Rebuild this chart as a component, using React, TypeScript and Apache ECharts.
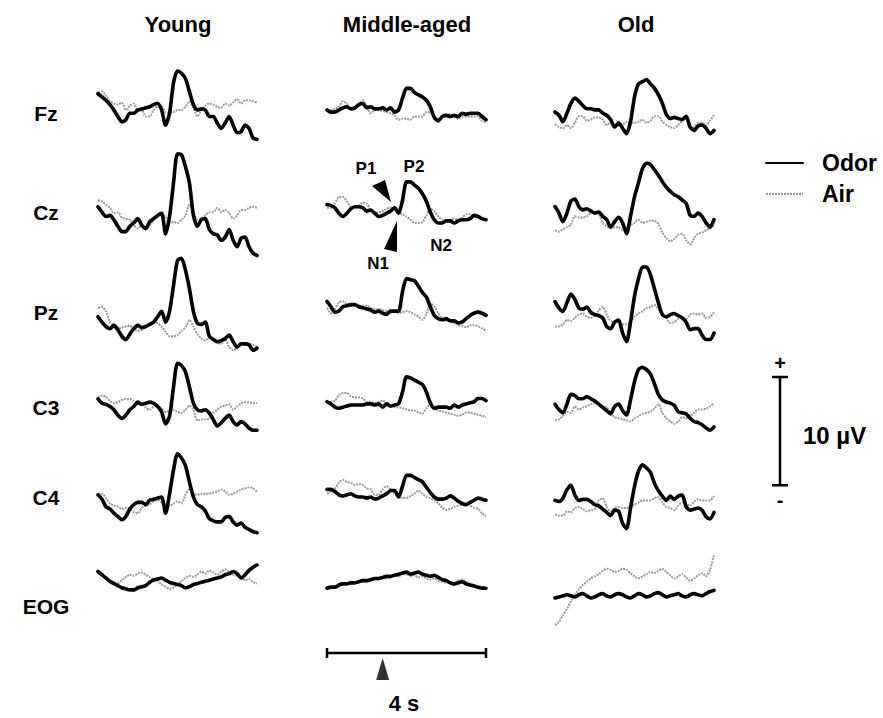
import React, { useEffect, useRef } from "react";
import * as echarts from "echarts";

// ---------- DATA ----------
// time (s) relative to stimulus onset, 0.1 s steps
const TIME = [-1.4,-1.3,-1.2,-1.1,-1.0,-0.9,-0.8,-0.7,-0.6,-0.5,-0.4,-0.3,-0.2,-0.1,0.0,0.1,0.2,0.3,0.4,0.5,0.6,0.7,0.8,0.9,1.0,1.1,1.2,1.3,1.4,1.5,1.6,1.7,1.8,1.9,2.0,2.1,2.2,2.3,2.4,2.5,2.6];

const GROUPS = ["Young", "Middle-aged", "Old"];
const ELECTRODES = ["Fz", "Cz", "Pz", "C3", "C4", "EOG"];

// amplitudes in µV
const youngFzOdor = [1.5,1.2,0.9,0.5,0.0,-0.6,-1.1,-0.9,-0.3,-0.3,0.0,0.1,0.2,0.3,0.5,0.6,0.0,-1.4,-0.3,2.5,3.6,3.4,2.9,1.7,0.5,0.0,0.1,0.0,-0.6,-0.6,-1.2,-1.7,-1.2,-0.6,-1.4,-2.1,-2.0,-1.4,-1.7,-2.6,-2.7];
const youngFzAir = [1.6,1.7,1.3,0.8,0.6,0.5,0.7,0.0,0.4,0.6,-0.1,0.0,-0.6,-0.6,0.0,0.3,0.3,-0.2,-0.3,-0.2,0.0,0.0,0.3,0.8,0.2,-0.6,0.0,0.4,0.6,0.5,0.3,0.2,0.6,0.4,0.7,1.0,0.6,0.9,0.9,0.8,0.7];
const youngCzOdor = [0.3,-0.2,-0.6,-0.5,-0.9,-1.5,-2.0,-2.0,-1.5,-1.2,-0.8,-1.4,-1.7,-1.1,-0.8,-0.5,-0.3,-2.2,-0.6,2.5,5.2,5.1,4.0,2.5,-0.5,-1.5,-0.9,-0.8,-1.8,-2.2,-2.3,-2.8,-2.5,-1.8,-2.8,-3.4,-2.6,-2.5,-3.4,-4.0,-4.2];
const youngCzAir = [0.9,0.8,0.5,0.2,-0.3,-0.2,-0.7,-0.8,-0.9,-1.4,-1.7,-1.4,-1.8,-1.4,-0.9,-0.6,-0.5,-0.6,-1.2,-1.1,-1.2,-0.9,-0.5,0.5,-0.2,-0.9,-0.8,-0.5,-0.2,-0.2,0.2,-0.2,0.0,-0.3,-0.8,-0.5,0.0,0.0,0.2,0.3,0.2];
const youngPzOdor = [0.3,-0.2,-0.6,-0.8,-0.5,-0.9,-1.5,-1.8,-1.3,-0.8,-0.5,-0.7,-0.6,-0.4,-0.2,0.3,0.8,-0.2,0.8,3.2,5.5,5.7,4.6,2.9,0.8,-0.3,-0.4,-0.2,-1.5,-1.8,-2.0,-1.9,-1.7,-1.4,-2.0,-2.5,-2.2,-2.2,-2.3,-2.8,-2.6];
const youngPzAir = [1.1,1.2,0.8,-0.2,-0.5,-0.8,-0.7,-0.6,-0.5,-0.8,-1.0,-0.9,-0.6,-0.3,-0.2,-0.3,-0.6,-1.1,-1.5,-1.5,-1.4,-1.0,-0.7,0.0,-0.6,-1.3,-1.7,-1.9,-1.6,-1.8,-2.1,-2.2,-1.8,-2.5,-2.8,-2.6,-2.2,-2.3,-2.2,-2.3,-2.5];
const youngC3Odor = [0.1,-0.3,-0.4,-0.6,-0.9,-1.4,-1.7,-1.4,-0.9,-0.6,-0.2,-0.4,-0.3,-0.2,-0.3,-0.6,-1.1,-2.2,-1.5,1.2,3.4,3.2,2.6,1.2,-0.3,-0.9,-1.0,-0.9,-1.2,-1.8,-2.4,-2.1,-1.7,-1.4,-2.0,-2.3,-2.0,-2.2,-2.6,-2.8,-2.8];
const youngC3Air = [0.2,0.4,0.3,-0.1,-0.3,-0.2,0.0,0.1,0.1,-0.1,-0.4,-0.3,-0.7,-0.9,-0.6,-0.5,-0.8,-1.1,-1.0,-0.9,-1.1,-1.2,-0.9,-0.5,-0.9,-1.9,-1.8,-1.8,-1.7,-1.2,-0.9,-0.6,-0.5,-0.4,-0.9,-0.6,-0.3,-0.2,-0.2,-0.3,-0.3];
const youngC4Odor = [0.2,-0.2,-0.9,-1.1,-1.5,-1.8,-2.1,-1.8,-1.1,-0.7,-0.5,-0.5,-0.7,-0.3,-0.2,-0.1,0.0,-1.5,0.3,2.5,4.0,3.6,2.9,1.4,0.0,-0.7,-0.9,-1.3,-2.0,-2.2,-2.3,-2.3,-1.9,-1.8,-2.3,-2.6,-2.4,-2.8,-3.0,-3.2,-3.3];
const youngC4Air = [0.3,0.3,-0.1,-0.6,-0.8,-0.9,-1.1,-1.0,-1.1,-1.4,-1.5,-1.0,-0.8,-0.7,-0.4,-0.3,-0.5,-0.8,-0.8,-0.6,-0.4,-0.6,0.2,0.7,0.3,0.2,0.3,0.3,0.3,0.4,0.5,0.7,0.5,0.2,0.3,0.5,0.7,0.8,0.9,0.8,0.5];
const youngEOGOdor = [0.6,0.3,0.0,-0.3,-0.5,-0.7,-0.9,-1.0,-1.1,-1.1,-0.9,-0.8,-0.7,-0.4,-0.2,-0.1,0.0,-0.2,-0.4,-0.5,-0.6,-0.7,-0.9,-0.8,-0.6,-0.5,-0.4,-0.3,-0.2,-0.1,0.0,0.1,0.3,0.4,0.6,0.4,0.0,0.3,0.7,1.0,1.2];
const youngEOGAir = [0.5,0.3,0.0,-0.4,-0.6,-0.5,-0.2,0.1,0.3,0.2,0.4,0.5,0.3,0.1,-0.1,-0.3,-0.6,-0.8,-1.0,-0.9,-0.6,-0.3,0.0,0.2,0.1,0.3,0.6,0.4,0.7,0.5,0.3,0.6,0.8,0.5,0.3,0.2,0.0,-0.2,-0.1,-0.4,-0.5];

const middleFzOdor = [0.0,-0.2,-0.2,0.0,0.2,0.3,0.1,0.2,0.5,0.6,0.2,0.3,0.1,0.1,0.2,0.0,0.2,-0.2,0.0,1.1,2.0,2.0,1.6,1.4,1.2,0.9,0.3,-0.7,-1.0,-0.6,-0.5,-0.6,-0.5,-0.6,-0.3,-0.4,-0.3,-0.3,-0.3,-0.6,-0.9];
const middleFzAir = [0.0,0.0,0.1,0.3,0.8,0.6,0.1,0.3,0.5,0.9,0.3,-0.3,0.0,0.0,-0.1,-0.2,-0.3,-0.5,-0.9,-0.8,-0.8,-0.9,-0.6,-0.6,-0.6,-0.2,-0.2,-0.6,-0.8,-0.6,-0.4,-0.4,-0.6,-0.8,-0.6,-0.6,-0.6,-0.6,-0.6,-1.0,-1.1];
const middleCzOdor = [0.5,0.4,0.2,-0.3,-0.6,-0.3,0.1,0.3,0.3,0.2,-0.1,0.0,-0.3,-0.6,-0.5,-0.3,-0.1,0.2,-0.3,0.9,2.6,2.6,2.3,2.0,1.5,0.8,-0.2,-0.9,-1.2,-1.2,-1.0,-1.0,-1.2,-1.0,-0.9,-0.9,-0.8,-0.5,-0.6,-0.8,-0.9];
const middleCzAir = [0.2,0.2,0.6,1.2,1.2,0.8,0.3,0.3,0.4,0.7,0.6,0.0,-0.3,-0.2,-0.1,0.1,0.2,0.2,-0.2,-0.4,-0.6,-0.9,-1.2,-1.2,-1.1,-0.5,0.1,-0.1,-0.6,-0.9,-1.1,-0.9,-0.8,-0.9,-0.7,-0.4,-0.4,-0.6,-0.7,-0.8,-0.9];
const middlePzOdor = [0.8,0.3,-0.2,-0.1,0.3,0.4,0.5,0.5,0.3,0.2,0.1,0.0,-0.2,-0.1,-0.3,-0.4,-0.1,-0.1,-0.1,1.7,2.9,2.8,2.7,2.2,1.6,1.2,0.3,-0.5,-0.8,-0.9,-0.8,-1.0,-1.0,-1.2,-1.1,-0.8,-0.5,-0.3,-0.2,-0.3,-0.5];
const middlePzAir = [0.2,-0.3,0.1,0.7,0.8,0.5,0.4,0.4,0.4,0.4,0.4,0.2,0.1,0.1,0.0,-0.1,-0.2,-0.2,-0.3,-0.2,-0.1,-0.2,-0.4,-0.6,-0.9,-0.4,0.6,0.3,-0.3,-0.8,-1.0,-1.0,-1.2,-1.4,-1.5,-1.6,-1.4,-1.4,-1.5,-1.7,-1.9];
const middleC3Odor = [0.3,0.1,-0.2,-0.3,-0.2,-0.1,0.0,0.0,0.0,0.0,0.1,0.1,0.0,0.1,-0.2,0.1,-0.1,0.0,0.1,1.2,2.6,2.5,2.3,2.1,1.9,1.2,0.2,-0.3,-0.2,-0.2,-0.2,-0.3,0.0,-0.2,0.0,0.1,0.2,0.3,0.6,0.6,0.4];
const middleC3Air = [0.2,0.3,0.4,0.9,1.1,1.1,0.8,0.7,0.7,0.6,0.3,0.3,0.2,0.3,0.4,0.2,-0.1,-0.2,-0.2,-0.3,-0.4,-0.5,-0.5,-0.7,-0.8,-0.3,0.1,-0.2,-0.5,-0.6,-0.7,-0.8,-0.9,-1.0,-0.9,-0.7,-0.7,-0.8,-0.9,-1.0,-1.1];
const middleC4Odor = [0.7,0.7,0.5,0.2,0.1,0.2,0.3,0.1,0.0,0.0,-0.1,0.0,-0.2,-0.1,0.1,0.3,0.6,0.6,0.0,1.0,2.0,2.0,1.8,1.6,1.4,0.9,0.4,0.0,-0.2,-0.2,-0.1,0.1,-0.1,-0.4,-0.6,-0.7,-0.5,-0.3,-0.1,-0.2,-0.3];
const middleC4Air = [0.3,0.5,0.8,1.3,1.6,1.4,1.3,1.1,1.2,1.1,0.8,0.7,0.2,0.2,0.7,1.0,0.7,0.3,0.0,-0.1,-0.1,0.1,0.3,0.6,0.3,0.0,-0.1,-0.3,-0.6,-1.0,-1.2,-1.1,-0.9,-0.8,-0.7,-0.6,-0.8,-1.0,-1.1,-1.5,-1.8];
const middleEOGOdor = [-0.3,-0.2,-0.2,0.0,0.1,0.1,0.2,0.2,0.3,0.4,0.4,0.5,0.6,0.6,0.7,0.8,0.8,0.9,1.0,1.1,1.2,1.0,1.1,1.2,1.0,0.9,0.8,0.9,0.7,0.5,0.4,0.2,0.1,0.2,0.3,0.1,0.0,-0.1,-0.2,-0.3,-0.3];
const middleEOGAir = [-0.4,-0.3,-0.1,0.0,0.2,0.1,0.3,0.2,0.4,0.5,0.3,0.4,0.6,0.5,0.7,0.6,0.8,0.9,0.8,1.0,1.0,0.8,0.9,0.7,0.8,0.6,0.5,0.6,0.4,0.3,0.2,0.3,0.2,0.4,0.5,0.3,0.1,0.0,-0.2,-0.1,-0.4];

const oldFzOdor = [1.2,0.9,0.3,1.1,2.0,2.5,2.2,1.8,1.5,1.5,1.4,1.4,1.1,0.9,0.5,-0.2,0.2,-0.3,-0.8,0.3,2.6,3.8,4.0,4.2,3.8,3.4,2.8,2.0,1.0,0.6,0.7,0.6,0.5,0.8,-0.2,-0.5,-0.1,0.0,-0.3,-0.8,-0.5];
const oldFzAir = [0.1,-0.2,-0.3,0.0,-0.3,0.2,0.8,0.8,0.4,0.5,0.7,0.7,0.5,0.0,0.2,-0.1,-0.1,0.0,0.3,0.2,0.2,0.3,0.5,0.2,0.4,0.8,0.8,0.3,0.0,-0.2,-0.3,0.0,0.4,0.6,-0.3,-0.2,0.2,0.2,0.0,0.4,0.9];
const oldCzOdor = [1.7,1.1,0.3,1.1,2.2,2.4,1.7,1.4,1.5,1.3,1.1,1.2,0.8,0.5,-0.2,0.3,0.7,0.2,-0.8,0.8,2.6,3.9,5.2,5.7,5.6,5.1,4.6,4.0,3.5,3.1,2.8,2.6,2.3,2.0,0.9,0.8,1.1,0.8,0.2,-0.2,0.5];
const oldCzAir = [-0.5,-0.6,-0.4,-0.2,0.0,0.8,0.7,0.7,0.8,1.1,1.2,1.0,0.2,-0.1,-0.3,-0.2,-0.2,-0.5,-0.3,0.0,0.2,0.5,0.2,0.3,0.4,0.4,0.1,-0.7,-1.2,-1.5,-1.3,-0.9,-0.8,-1.4,-1.8,-1.2,-0.8,-0.7,-0.5,-0.3,0.0];
const oldPzOdor = [1.7,1.1,0.8,1.6,2.4,1.9,1.1,1.0,1.2,0.7,0.5,0.4,0.2,-0.6,-0.8,-0.2,0.0,-1.2,-2.0,-0.2,2.2,3.8,4.9,4.9,4.2,2.9,1.6,0.5,0.3,0.5,0.6,0.4,0.2,-0.2,-0.9,-0.8,-0.8,-1.4,-1.8,-1.8,-1.2];
const oldPzAir = [-0.6,-0.6,-0.4,0.0,-0.1,0.2,0.5,0.6,0.3,0.2,0.4,0.9,1.2,0.5,-0.1,-0.2,-0.2,-0.4,-0.4,-0.2,0.3,0.6,0.8,1.1,1.2,1.4,1.0,0.5,0.2,-0.3,-0.2,0.1,0.2,0.1,0.5,0.6,0.5,0.6,0.2,0.3,0.7];
const oldC3Odor = [1.0,0.5,0.2,1.0,1.9,1.8,1.5,1.5,1.7,1.5,1.3,1.0,0.7,0.4,0.1,0.8,1.0,0.4,0.0,1.4,3.1,4.2,4.4,4.2,3.8,2.9,1.9,1.4,1.2,1.1,0.9,0.3,0.2,0.1,-0.3,-0.6,-0.7,-0.9,-1.2,-1.4,-1.1];
const oldC3Air = [-0.5,-0.4,-0.1,0.3,0.2,0.8,0.5,0.7,0.8,1.0,1.1,1.0,0.8,0.7,0.2,-0.2,-0.3,-0.4,-0.5,-0.6,-0.3,-0.1,0.1,0.2,0.3,0.6,1.0,0.2,-0.3,-0.6,-0.8,-0.6,-0.2,-0.3,-0.1,0.2,0.5,0.5,0.6,0.8,1.1];
const oldC4Odor = [0.7,0.6,0.9,1.7,2.1,1.2,0.7,0.8,0.8,0.6,0.3,0.2,-0.1,-0.4,-0.7,-0.2,-0.3,-1.4,-1.9,0.0,2.0,3.4,4.0,3.7,3.3,2.3,1.6,1.1,0.7,1.1,0.8,1.1,1.2,0.1,-0.2,-0.1,0.0,-0.2,-0.8,-1.0,-0.4];
const oldC4Air = [-0.6,-0.7,-0.7,-0.3,-0.4,0.0,0.1,-0.1,-0.3,-0.2,-0.1,0.7,0.9,0.1,-0.3,0.0,0.1,0.0,0.0,0.1,0.3,0.5,0.7,0.7,0.7,0.9,1.0,0.5,0.1,0.0,-0.2,0.2,0.5,0.4,0.2,0.6,0.8,0.7,0.7,0.7,1.1];
const oldEOGOdor = [0.0,0.1,0.2,0.3,0.2,0.1,0.3,0.4,0.2,0.0,0.1,0.3,0.4,0.2,0.1,0.3,0.4,0.3,0.1,0.0,0.2,0.4,0.3,0.1,0.2,0.4,0.5,0.3,0.1,0.2,0.3,0.4,0.2,0.1,0.3,0.4,0.3,0.2,0.4,0.6,0.7];
const oldEOGAir = [-2.5,-2.2,-1.6,-1.0,-0.3,0.3,0.8,1.2,1.5,1.8,2.0,2.2,2.5,2.7,2.6,2.4,2.5,2.7,2.6,2.3,2.0,1.8,2.0,2.2,2.4,2.3,2.5,2.7,2.4,2.1,1.8,2.0,2.2,1.9,1.6,1.8,2.1,2.3,2.0,2.6,4.0];

const ODOR = [
  [youngFzOdor, youngCzOdor, youngPzOdor, youngC3Odor, youngC4Odor, youngEOGOdor],
  [middleFzOdor, middleCzOdor, middlePzOdor, middleC3Odor, middleC4Odor, middleEOGOdor],
  [oldFzOdor, oldCzOdor, oldPzOdor, oldC3Odor, oldC4Odor, oldEOGOdor],
];
const AIR = [
  [youngFzAir, youngCzAir, youngPzAir, youngC3Air, youngC4Air, youngEOGAir],
  [middleFzAir, middleCzAir, middlePzAir, middleC3Air, middleC4Air, middleEOGAir],
  [oldFzAir, oldCzAir, oldPzAir, oldC3Air, oldC4Air, oldEOGAir],
];

const SCALE_UV = 10; // calibration bar
const TIME_BAR_S = 4; // time bar

// ---------- LAYOUT ----------
const FONT = '"Liberation Sans", Arial, Helvetica, sans-serif';
const COL_LEFT = [98, 327, 555];
const PANEL_W = 159;
const PX_PER_UV = 10.83;
const ZERO_Y = [
  [110, 210, 320, 400, 497, 578],
  [110, 210, 310, 405, 497, 585],
  [125, 225, 320, 415, 508, 598],
];
const HEADER_X = [178, 407, 636];
const ROW_LABEL_Y = [113, 212, 312, 407, 497, 606];

export default function App() {
  const ref = useRef<HTMLDivElement>(null);

  useEffect(() => {
    document.body.style.margin = "0";
    const chart = echarts.init(ref.current!, undefined, { renderer: "svg" });

    const grids: any[] = [];
    const xAxes: any[] = [];
    const yAxes: any[] = [];
    const series: any[] = [];

    GROUPS.forEach((g, c) => {
      ELECTRODES.forEach((e, r) => {
        const k = grids.length;
        grids.push({
          left: COL_LEFT[c],
          width: PANEL_W,
          top: ZERO_Y[c][r] - 5 * PX_PER_UV,
          height: 10 * PX_PER_UV,
        });
        xAxes.push({ gridIndex: k, type: "value", min: -1.4, max: 2.6, show: false });
        yAxes.push({ gridIndex: k, type: "value", min: -5, max: 5, show: false });
        series.push({
          name: "Air",
          type: "line",
          xAxisIndex: k,
          yAxisIndex: k,
          data: TIME.map((t, i) => [t, AIR[c][r][i]]),
          symbol: "none",
          showSymbol: false,
          smooth: 0.25,
          clip: false,
          z: 2,
          lineStyle: { color: "#9a9a9a", width: 2, type: [2, 1] },
          itemStyle: { color: "#9a9a9a" },
        });
        series.push({
          name: "Odor",
          type: "line",
          xAxisIndex: k,
          yAxisIndex: k,
          data: TIME.map((t, i) => [t, ODOR[c][r][i]]),
          symbol: "none",
          showSymbol: false,
          smooth: 0.25,
          clip: false,
          z: 3,
          lineStyle: { color: "#000", width: 3.6, cap: "round", join: "round" },
          itemStyle: { color: "#000" },
        });
      });
    });

    // calibration bar grid (10 µV)
    const kS = grids.length;
    grids.push({ left: 772, width: 16, top: 377, height: SCALE_UV * PX_PER_UV });
    xAxes.push({ gridIndex: kS, type: "value", min: -1, max: 1, show: false });
    yAxes.push({ gridIndex: kS, type: "value", min: 0, max: SCALE_UV, show: false });
    const barStyle = { color: "#000", width: 2.5 };
    [
      [[0, 0], [0, SCALE_UV]],
      [[-1, 0], [1, 0]],
      [[-1, SCALE_UV], [1, SCALE_UV]],
    ].forEach((d) =>
      series.push({
        name: "scale", type: "line", xAxisIndex: kS, yAxisIndex: kS, data: d,
        symbol: "none", lineStyle: barStyle, clip: false, silent: true,
      })
    );

    // time bar grid (4 s)
    const kT = grids.length;
    grids.push({ left: COL_LEFT[1], width: PANEL_W, top: 643, height: 40 });
    xAxes.push({ gridIndex: kT, type: "value", min: -1.4, max: -1.4 + TIME_BAR_S, show: false });
    yAxes.push({ gridIndex: kT, type: "value", min: -2, max: 2, show: false });
    const t0 = -1.4, t1 = -1.4 + TIME_BAR_S;
    [
      [[t0, 1], [t1, 1]],
      [[t0, 0.5], [t0, 1.5]],
      [[t1, 0.5], [t1, 1.5]],
    ].forEach((d) =>
      series.push({
        name: "time", type: "line", xAxisIndex: kT, yAxisIndex: kT, data: d,
        symbol: "none", lineStyle: barStyle, clip: false, silent: true,
      })
    );
    series.push({
      name: "onset", type: "scatter", xAxisIndex: kT, yAxisIndex: kT,
      data: [[0, -0.6]], symbol: "triangle", symbolSize: [13, 22],
      itemStyle: { color: "#000" }, silent: true,
    });

    const txt = (text: string, x: number, y: number, size: number, align = "center") => ({
      type: "text",
      x,
      y,
      style: {
        text,
        fill: "#000",
        font: `bold ${size}px ${FONT}`,
        align,
        verticalAlign: "middle",
      },
    });

    const graphic: any[] = [];
    GROUPS.forEach((g, c) => graphic.push(txt(g, HEADER_X[c], 24, 22)));
    ELECTRODES.forEach((e, r) => graphic.push(txt(e, 46, ROW_LABEL_Y[r], 21)));
    graphic.push(txt("P1", 366, 168, 17));
    graphic.push(txt("P2", 414, 166, 17));
    graphic.push(txt("N1", 378, 263, 17));
    graphic.push(txt("N2", 441, 245, 17));
    graphic.push({ type: "polygon", shape: { points: [[372, 186], [385, 180], [391, 202]] }, style: { fill: "#000" } });
    graphic.push({ type: "polygon", shape: { points: [[397, 221], [384, 249], [397, 252]] }, style: { fill: "#000" } });
    graphic.push(txt("+", 780, 363, 20));
    graphic.push(txt("-", 780, 500, 20));
    graphic.push(txt("10 µV", 803, 435, 24, "left"));
    graphic.push(txt("4 s", 404, 703, 22));

    chart.setOption({
      animation: false,
      backgroundColor: "#fff",
      grid: grids,
      xAxis: xAxes,
      yAxis: yAxes,
      legend: {
        data: ["Odor", "Air"],
        orient: "vertical",
        left: 760,
        top: 145,
        itemWidth: 37,
        itemHeight: 14,
        itemGap: 5,
        selectedMode: false,
        itemStyle: { opacity: 0, borderWidth: 0 },
        textStyle: {
          fontFamily: FONT,
          fontSize: 23,
          fontWeight: "bold",
          color: "#000",
          lineHeight: 26,
          padding: [0, 0, 0, 14],
        },
      },
      series,
      graphic,
    });

    return () => chart.dispose();
  }, []);

  return <div ref={ref} style={{ width: 883, height: 718, background: "#fff" }} />;
}
